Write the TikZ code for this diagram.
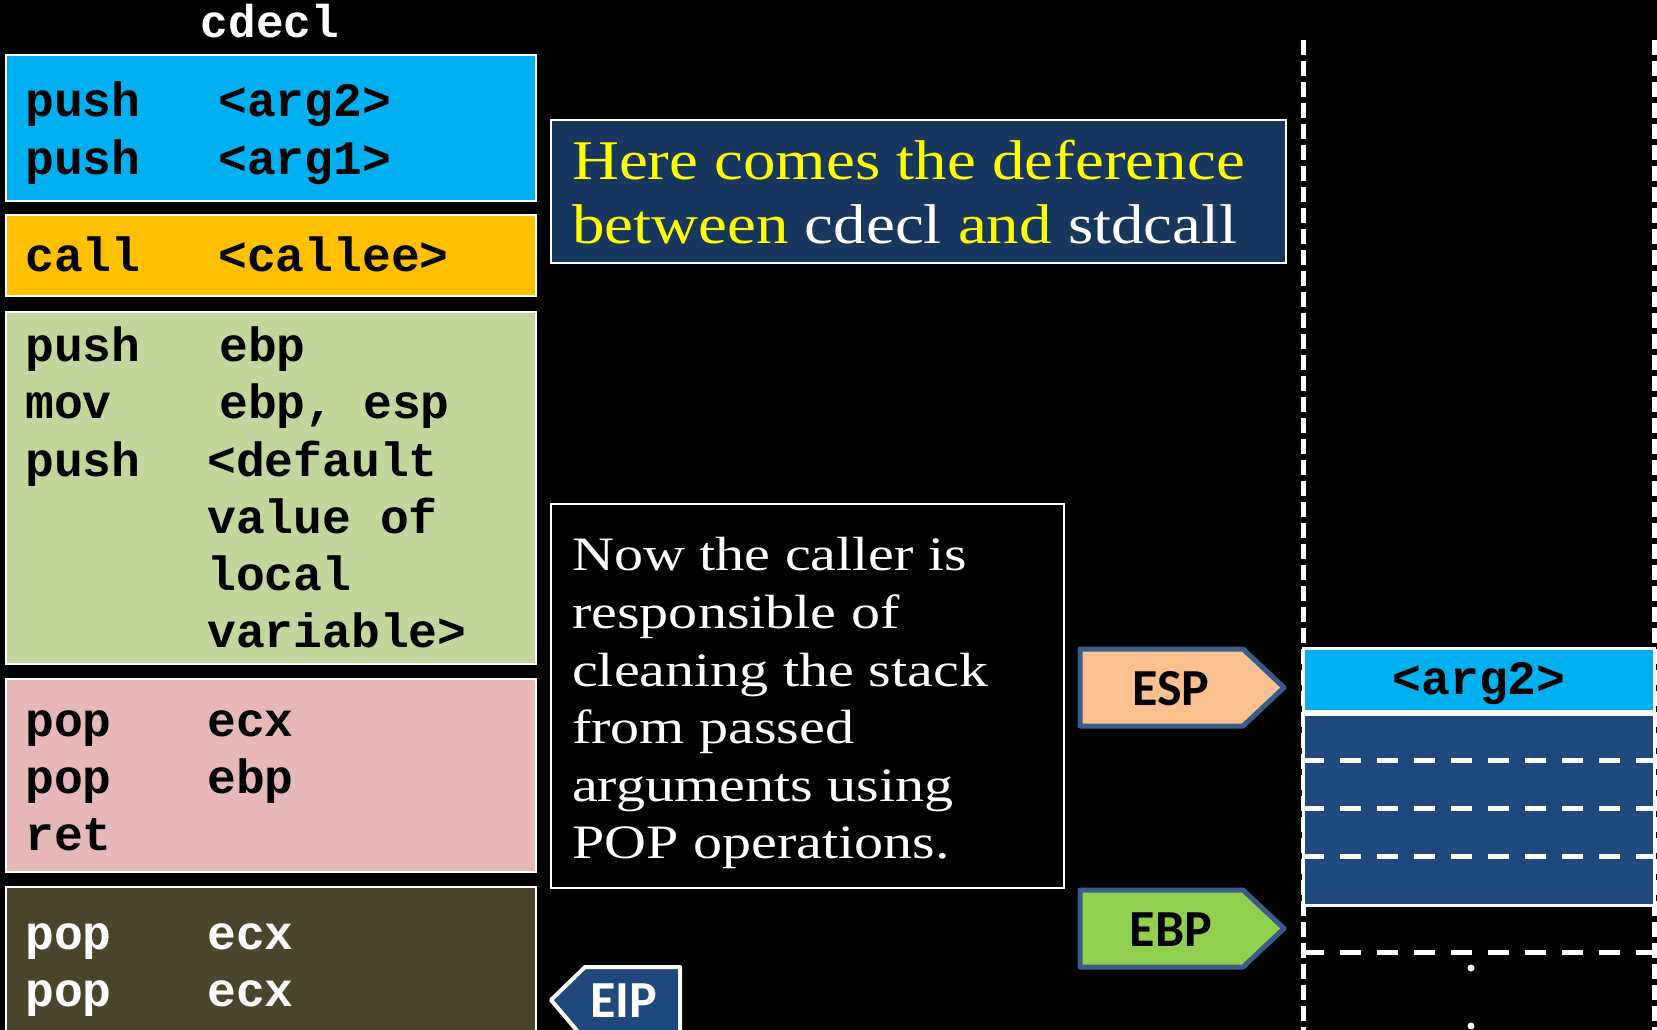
\documentclass[tikz,border=0pt]{standalone}
\usepackage{fontspec}
\setmonofont{Liberation Mono}
\newfontfamily\widserif[FakeStretch=1.16]{Liberation Serif}
\newfontfamily\widerserif[FakeStretch=1.21]{Liberation Serif}
\newfontfamily\lblfont{Carlito}
\definecolor{cblue}{HTML}{00B0F0}
\definecolor{corange}{HTML}{FFC000}
\definecolor{cgreen}{HTML}{C3D69B}
\definecolor{cpink}{HTML}{E6B9B8}
\definecolor{colive}{HTML}{4A452A}
\definecolor{cnavy}{HTML}{17375E}
\definecolor{cstack}{HTML}{1F497D}
\definecolor{cpeach}{HTML}{FAC090}
\definecolor{clime}{HTML}{92D050}
\definecolor{coutline}{HTML}{385D8A}
\definecolor{cyellow}{HTML}{FFFF00}
\newcommand\codefont{\fontsize{48}{56}\selectfont\ttfamily\bfseries}
\newcommand\notefont{\fontsize{48}{58}\selectfont\widerserif}
\newcommand\headfont{\fontsize{56}{64}\selectfont\widserif}
\newcommand\tagfont{\fontsize{52}{60}\selectfont\lblfont\bfseries}
\begin{document}
\begin{tikzpicture}[x=1pt,y=-1pt,
  box/.style={draw=white, line width=2pt, anchor=north west, inner sep=0pt, outer sep=0pt},
  code/.style={anchor=base west, inner sep=0pt, font=\codefont, text=black},
  wcode/.style={code, text=white},
  note/.style={anchor=base west, inner sep=0pt, font=\notefont, text=white},
  head/.style={anchor=base west, inner sep=0pt, font=\headfont, text=cyellow},
  tag/.style={inner sep=0pt, font=\tagfont},
  vdash/.style={draw=white, line width=5pt, dash pattern=on 15pt off 6pt},
  hdash/.style={draw=white, line width=5pt, dash pattern=on 21pt off 16pt},
  tagshape/.style={line width=5pt, line join=round, draw=coutline}]
\fill[black] (0,0) rectangle (1657,1030);
\useasboundingbox (0,0) rectangle (1657,1030);

% title
\node[anchor=base, inner sep=0pt, font=\fontsize{46}{52}\selectfont\ttfamily\bfseries, text=white] (title) at (270,38) {cdecl};

% code boxes
\node[box, fill=cblue, minimum width=530pt, minimum height=146pt] (bluebox) at (6,55) {};
\node[box, fill=corange, minimum width=530pt, minimum height=81pt] (orangebox) at (6,215) {};
\node[box, fill=cgreen, minimum width=530pt, minimum height=352pt] (greenbox) at (6,312) {};
\node[box, fill=cpink, minimum width=530pt, minimum height=193pt] (pinkbox) at (6,679) {};
\node[box, fill=colive, minimum width=530pt, minimum height=170pt] (olivebox) at (6,887) {};

\node[code] (b1a) at (25,117) {push};
\node[code] (b1b) at (218,117) {<arg2>};
\node[code] (b2a) at (25,175) {push};
\node[code] (b2b) at (218,175) {<arg1>};

\node[code] (c1a) at (25,271) {call};
\node[code] (c1b) at (218,271) {<callee>};

\node[code] (g1a) at (25,361) {push};
\node[code] (g1b) at (219,361) {ebp};
\node[code] (g2a) at (25,418) {mov};
\node[code] (g2b) at (219,418) {ebp, esp};
\node[code] (g3a) at (25,476) {push};
\node[code] (g3b) at (207,476) {<default};
\node[code] (g4b) at (207,533) {value of};
\node[code] (g5b) at (207,590) {local};
\node[code] (g6b) at (207,647) {variable>};

\node[code] (p1a) at (25,736) {pop};
\node[code] (p1b) at (207,736) {ecx};
\node[code] (p2a) at (25,793) {pop};
\node[code] (p2b) at (207,793) {ebp};
\node[code] (p3a) at (25,850) {ret};

\node[wcode] (o1a) at (25,949) {pop};
\node[wcode] (o1b) at (207,949) {ecx};
\node[wcode] (o2a) at (25,1006) {pop};
\node[wcode] (o2b) at (207,1006) {ecx};

% difference box
\node[box, fill=cnavy, line width=2.5pt, minimum width=735pt, minimum height=143pt] (diffbox) at (551,120) {};
\node[head] (d1) at (572,179) {Here comes the deference};
\node[head] (d2) at (572,243) {between \textcolor{white}{cdecl} and \textcolor{white}{stdcall}};

% note box
\node[box, fill=black, minimum width=513pt, minimum height=384pt] (notebox) at (551,504) {};
\node[note] (n1) at (572,570) {Now the caller is};
\node[note] (n2) at (572,628) {responsible of};
\node[note] (n3) at (572,686) {cleaning the stack};
\node[note] (n4) at (572,743) {from passed};
\node[note] (n5) at (572,801) {arguments using};
\node[note] (n6) at (572,858) {POP operations.};

% stack
\draw[vdash] (1303,40) -- (1303,1040);
\draw[vdash] (1654,40) -- (1654,1040);
\node[box, fill=cblue, line width=3pt, minimum width=351pt, minimum height=63pt] (argbox) at (1303,648) {};
\node[anchor=base, inner sep=0pt, font=\codefont, text=black] (argtxt) at (1479,694) {<arg2>};
\node[box, fill=cstack, line width=3pt, minimum width=351pt, minimum height=191pt] (framebox) at (1303,714) {};
\draw[hdash] (1303,760) -- (1654,760);
\draw[hdash] (1303,808) -- (1654,808);
\draw[hdash] (1303,856) -- (1654,856);
\draw[hdash] (1303,952) -- (1654,952);
\fill[white] (1471,968) circle (3.5);
\fill[white] (1471,1026) circle (3.5);

% pointer tags
\draw[tagshape, fill=cpeach] (1080,649) -- (1243,649) -- (1284,687.5) -- (1243,726) -- (1080,726) -- cycle;
\node[tag, text=black] (esp) at (1171,689) {ESP};
\draw[tagshape, fill=clime] (1080,890) -- (1243,890) -- (1284,928.5) -- (1243,967) -- (1080,967) -- cycle;
\node[tag, text=black] (ebp) at (1171,930) {EBP};
\draw[line width=4pt, line join=round, draw=white, fill=cstack] (551,1000) -- (585,967) -- (680,967) -- (680,1040) -- (585,1040) -- cycle;
\node[tag, text=white] (eip) at (624,1001) {EIP};
\end{tikzpicture}
\end{document}
